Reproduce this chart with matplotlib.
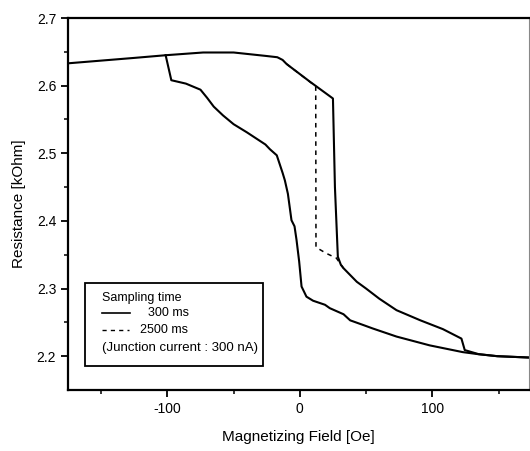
import matplotlib
matplotlib.use("Agg")
import matplotlib.pyplot as plt
from matplotlib.patches import Rectangle

plt.rcParams['font.family'] = ['Liberation Sans', 'DejaVu Sans']
plt.rcParams['axes.unicode_minus'] = False

# field sweep up (300 ms)
up_H = [-175, -150, -125, -101, -73, -50, -26, -17, -13, -10, 7.5, 25,
        26.5, 28.7, 31, 33, 43, 50, 60, 73, 91, 108, 122, 124.5, 135, 149, 173]
up_R = [2.633, 2.637, 2.641, 2.645, 2.649, 2.649, 2.644, 2.642, 2.638, 2.632, 2.606, 2.581,
        2.450, 2.347, 2.335, 2.330, 2.310, 2.300, 2.285, 2.268, 2.253, 2.240, 2.226, 2.209, 2.203, 2.200, 2.198]

# field sweep down (300 ms)
down_H = [173, 149, 134.5, 123, 98, 73, 55, 48, 38, 33, 22.6, 19, 10, 5, 1.3, -0.5,
          -2.5, -4, -6.3, -9, -11.3, -13, -17.4, -22.6, -26, -40, -50, -58, -65, -70,
          -75, -86, -97, -101.3]
down_R = [2.198, 2.200, 2.203, 2.206, 2.216, 2.229, 2.241, 2.246, 2.253, 2.262, 2.271, 2.276, 2.282, 2.288, 2.303, 2.340,
          2.372, 2.392, 2.401, 2.440, 2.460, 2.471, 2.497, 2.506, 2.513, 2.531, 2.543, 2.556, 2.569, 2.582,
          2.594, 2.603, 2.608, 2.645]

# 2500 ms sweep up, where it departs from the 300 ms curve
slow_H = [-10, 12, 12.2, 20, 27.6, 33]
slow_R = [2.632, 2.599, 2.361, 2.352, 2.345, 2.330]

fig = plt.figure(figsize=(5.30, 4.51), dpi=100)
ax = fig.add_axes([68 / 530, 1 - 390 / 451, 461 / 530, 372 / 451])

ax.plot(up_H, up_R, color='black', lw=1.5)
ax.plot(down_H, down_R, color='black', lw=1.5)
ax.plot(slow_H, slow_R, color='black', lw=1.1, ls=(0, (3, 3)))

ax.set_xlim(-175, 173)
ax.set_ylim(2.15, 2.7)
ax.set_xticks([-100, 0, 100])
ax.set_xticks([-150, -50, 50, 150], minor=True)
ax.set_yticks([2.2, 2.3, 2.4, 2.5, 2.6, 2.7])
ax.set_yticks([2.25, 2.35, 2.45, 2.55, 2.65], minor=True)
ax.tick_params(which='major', direction='out', length=5, width=1.3, labelsize=10, top=False, right=False)
ax.tick_params(which='minor', direction='out', length=3, width=1.1)
for side in ['left', 'bottom', 'top']:
    ax.spines[side].set_linewidth(1.6)
ax.spines['right'].set_linewidth(0.8)
ax.spines['right'].set_color('#888888')

ax.set_xlabel('Magnetizing Field [Oe]', fontsize=11, labelpad=10)
ax.set_ylabel('Resistance [kOhm]', fontsize=11, labelpad=8)

# legend box drawn by hand
ax.add_patch(Rectangle((0.0369, 0.0645), 0.386, 0.223, transform=ax.transAxes,
                       fill=False, lw=1.3, ec='black', clip_on=False))
ax.text(0.0731, 0.247, 'Sampling time', transform=ax.transAxes, fontsize=9, va='center')
ax.plot([0.0731, 0.1345], [0.207, 0.207], transform=ax.transAxes, color='black', lw=1.2)
ax.text(0.1735, 0.207, '300 ms', transform=ax.transAxes, fontsize=9, va='center')
ax.plot([0.0731, 0.132], [0.161, 0.161], transform=ax.transAxes, color='black', lw=1.0, ls=(0, (3, 3)))
ax.text(0.156, 0.161, '2500 ms', transform=ax.transAxes, fontsize=9, va='center')
ax.text(0.0731, 0.113, '(Junction current : 300 nA)', transform=ax.transAxes, fontsize=9.5, va='center')

fig.savefig('out.png', dpi=100)
